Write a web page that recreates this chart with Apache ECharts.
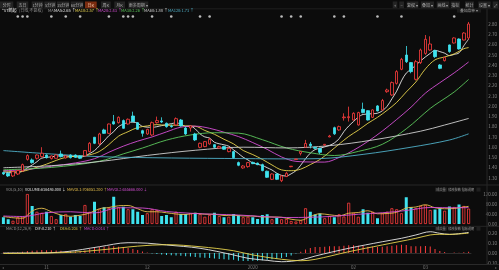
<!DOCTYPE html>
<html><head><meta charset="utf-8">
<script src="https://cdn.jsdelivr.net/npm/echarts/dist/echarts.min.js"></script>
<style>html,body{margin:0;padding:0;background:#0c0c0c;}#c{width:499px;height:270px;}</style>
</head><body><div id="c"></div>
<script>
const dates = ['2019-10-21','2019-10-22','2019-10-23','2019-10-24','2019-10-25','2019-10-28','2019-10-29','2019-10-30','2019-10-31',
'2019-11-01','2019-11-04','2019-11-05','2019-11-06','2019-11-07','2019-11-08','2019-11-11','2019-11-12','2019-11-13','2019-11-14','2019-11-15','2019-11-18','2019-11-19','2019-11-20','2019-11-21','2019-11-22','2019-11-25','2019-11-26','2019-11-27','2019-11-28','2019-11-29',
'2019-12-02','2019-12-03','2019-12-04','2019-12-05','2019-12-06','2019-12-09','2019-12-10','2019-12-11','2019-12-12','2019-12-13','2019-12-16','2019-12-17','2019-12-18','2019-12-19','2019-12-20','2019-12-23','2019-12-24','2019-12-25','2019-12-26','2019-12-27','2019-12-30','2019-12-31',
'2020-01-02','2020-01-03','2020-01-06','2020-01-07','2020-01-08','2020-01-09','2020-01-10','2020-01-13','2020-01-14','2020-01-15','2020-01-16','2020-01-17','2020-01-20','2020-01-21','2020-01-22','2020-01-23',
'2020-02-03','2020-02-04','2020-02-05','2020-02-06','2020-02-07','2020-02-10','2020-02-11','2020-02-12','2020-02-13','2020-02-14','2020-02-17','2020-02-18','2020-02-19','2020-02-20','2020-02-21','2020-02-24','2020-02-25','2020-02-26','2020-02-27','2020-02-28',
'2020-03-02','2020-03-03','2020-03-04','2020-03-05','2020-03-06','2020-03-09','2020-03-10','2020-03-11','2020-03-12','2020-03-13'];

// [open, close, low, high]
const ohlc = [
[1.353,1.339,1.33,1.36],[1.346,1.320,1.31,1.35],[1.320,1.362,1.31,1.37],[1.339,1.372,1.33,1.38],[1.37,1.43,1.36,1.44],
[1.482,1.518,1.47,1.53],[1.476,1.450,1.44,1.49],[1.492,1.524,1.48,1.53],[1.508,1.541,1.50,1.60],[1.524,1.498,1.49,1.53],
[1.489,1.515,1.48,1.52],[1.492,1.524,1.49,1.53],[1.534,1.508,1.50,1.567],[1.495,1.515,1.49,1.52],[1.524,1.498,1.49,1.53],
[1.524,1.502,1.495,1.53],[1.515,1.492,1.485,1.52],[1.515,1.567,1.51,1.57],[1.557,1.638,1.55,1.65],[1.697,1.638,1.63,1.70],
[1.632,1.729,1.62,1.74],[1.768,1.735,1.73,1.78],[1.735,1.826,1.73,1.83],[1.849,1.826,1.82,1.914],[1.839,1.891,1.83,1.90],
[1.859,1.784,1.78,1.87],[1.826,1.872,1.82,1.88],[1.904,1.849,1.845,1.946],[1.839,1.774,1.77,1.845],[1.761,1.735,1.703,1.77],
[1.729,1.774,1.72,1.78],[1.719,1.839,1.71,1.85],[1.839,1.859,1.83,1.898],[1.856,1.845,1.835,1.891],[1.833,1.800,1.79,1.84],
[1.807,1.800,1.79,1.82],[1.817,1.878,1.81,1.89],[1.865,1.807,1.80,1.875],[1.787,1.729,1.72,1.80],[1.787,1.807,1.752,1.81],
[1.729,1.671,1.66,1.74],[1.599,1.638,1.59,1.645],[1.606,1.654,1.60,1.66],[1.632,1.677,1.625,1.69],[1.625,1.599,1.59,1.63],
[1.592,1.606,1.585,1.615],[1.606,1.580,1.575,1.61],[1.557,1.589,1.55,1.60],[1.557,1.498,1.49,1.565],[1.450,1.424,1.415,1.46],
[1.398,1.417,1.39,1.425],[1.411,1.450,1.40,1.455],[1.452,1.440,1.435,1.46],[1.445,1.430,1.425,1.45],[1.430,1.372,1.365,1.44],
[1.366,1.307,1.30,1.372],[1.287,1.339,1.28,1.345],[1.339,1.287,1.28,1.345],[1.274,1.320,1.26,1.33],[1.314,1.346,1.31,1.36],
[1.41,1.415,1.405,1.415],[1.48,1.486,1.48,1.486],[1.54,1.558,1.52,1.558],[1.60,1.636,1.595,1.671],[1.63,1.615,1.589,1.65],
[1.599,1.589,1.58,1.605],[1.589,1.55,1.534,1.595],[1.62,1.628,1.615,1.63],[1.70,1.709,1.697,1.72],[1.79,1.73,1.72,1.80],
[1.768,1.80,1.76,1.81],[1.887,1.894,1.859,1.93],[1.888,1.897,1.85,1.995],[1.865,1.930,1.86,1.94],[1.817,1.937,1.81,1.945],
[1.969,1.937,1.93,2.034],[1.956,1.865,1.86,1.96],[1.891,1.963,1.885,1.97],[2.002,1.953,1.95,2.01],[1.963,2.054,1.955,2.07],
[2.141,2.157,2.13,2.17],[2.109,2.229,2.10,2.24],[2.222,2.336,2.21,2.35],[2.359,2.456,2.35,2.47],[2.498,2.433,2.42,2.586],
[2.424,2.336,2.32,2.43],[2.261,2.433,2.25,2.45],[2.424,2.547,2.41,2.56],[2.514,2.651,2.50,2.693],[2.547,2.605,2.54,2.68],
[2.540,2.482,2.47,2.55],[2.401,2.368,2.36,2.41],[2.443,2.475,2.435,2.48],[2.596,2.531,2.52,2.60],[2.615,2.664,2.61,2.67],
[2.654,2.557,2.55,2.66],[2.644,2.712,2.64,2.72],[2.664,2.80,2.65,2.82]];

// volume (万)
const volume = [27,19,13,27,29,120,72,49,45,49,32,19,36,40,29,36,32,76,49,89,59,67,64,109,67,69,59,59,49,36,
43,59,56,32,36,27,49,40,40,43,45,40,29,36,45,32,27,29,40,35,27,29,27,20,36,39,19,24,19,20,
12,10,15,63,49,38,42,23,32,27,39,30,85,45,29,59,45,49,23,43,49,63,59,43,107,67,63,72,76,56,
58,63,53,70,68,78,72,61.6];

// moving averages read at sample points [index, value]
const ma5 = [[0,1.36],[2,1.35],[4,1.365],[5,1.40],[6,1.426],[7,1.459],[8,1.493],[10,1.506],[12,1.517],[14,1.512],[16,1.503],[17,1.515],[18,1.539],[19,1.567],[20,1.613],[21,1.661],[22,1.713],[23,1.751],[24,1.801],[26,1.840],[27,1.844],[28,1.834],[29,1.803],[31,1.794],[33,1.810],[35,1.829],[36,1.836],[37,1.826],[38,1.803],[39,1.804],[40,1.778],[41,1.730],[42,1.700],[43,1.689],[44,1.648],[46,1.623],[47,1.610],[48,1.574],[49,1.539],[50,1.502],[51,1.476],[52,1.446],[54,1.422],[55,1.400],[56,1.378],[57,1.347],[58,1.325],[59,1.320],[60,1.341],[61,1.371],[62,1.425],[63,1.488],[64,1.542],[65,1.577],[66,1.590],[68,1.618],[69,1.641],[70,1.683],[71,1.752],[72,1.806],[73,1.850],[74,1.892],[75,1.919],[77,1.926],[78,1.931],[79,1.954],[80,1.998],[81,2.071],[82,2.146],[83,2.246],[84,2.322],[85,2.358],[86,2.399],[87,2.441],[88,2.480],[89,2.514],[90,2.544],[91,2.531],[92,2.516],[93,2.492],[94,2.504],[95,2.519],[96,2.588],[97,2.653]];
const ma10 = [[0,1.37],[3,1.36],[6,1.39],[9,1.435],[10,1.453],[12,1.488],[14,1.509],[16,1.512],[18,1.526],[20,1.558],[22,1.626],[24,1.707],[26,1.751],[28,1.792],[30,1.807],[32,1.820],[34,1.813],[36,1.815],[38,1.807],[40,1.804],[42,1.763],[44,1.726],[46,1.677],[48,1.632],[50,1.568],[52,1.528],[54,1.481],[56,1.427],[58,1.379],[60,1.371],[62,1.386],[64,1.431],[66,1.480],[68,1.553],[70,1.630],[72,1.705],[74,1.766],[76,1.833],[78,1.891],[80,1.959],[82,2.036],[84,2.138],[86,2.235],[88,2.363],[90,2.451],[92,2.479],[94,2.509],[96,2.559],[97,2.57]];
const ma20 = [[0,1.37],[5,1.383],[10,1.414],[15,1.447],[19,1.488],[22,1.551],[25,1.610],[28,1.659],[31,1.700],[34,1.749],[37,1.795],[40,1.805],[43,1.784],[46,1.746],[49,1.704],[52,1.645],[55,1.579],[58,1.505],[61,1.462],[64,1.456],[67,1.455],[70,1.500],[73,1.570],[76,1.656],[79,1.757],[82,1.870],[85,1.990],[88,2.127],[91,2.228],[94,2.324],[97,2.43]];
const ma30 = [[0,1.38],[10,1.403],[20,1.463],[25,1.535],[29,1.592],[34,1.669],[39,1.719],[44,1.741],[49,1.737],[54,1.673],[59,1.593],[64,1.546],[69,1.519],[74,1.559],[79,1.628],[84,1.779],[89,1.978],[91,2.043],[94,2.138],[97,2.26]];
const ma60 = [[0,1.40],[10,1.42],[20,1.46],[30,1.52],[40,1.57],[50,1.60],[59,1.593],[68,1.615],[77,1.670],[87,1.756],[92,1.816],[97,1.88]];
const ma120 = [[0,1.567],[10,1.534],[20,1.508],[35,1.495],[50,1.489],[60,1.486],[66,1.489],[75,1.53],[85,1.60],[93,1.67],[97,1.73]];

const mavol5 = [[0,30],[2,25],[4,23],[6,52],[8,63],[10,49],[12,36],[14,31],[16,35],[18,44],[20,61],[22,66],[24,73],[26,74],[28,61],[30,49],[32,49],[34,45],[36,40],[38,38],[40,43],[42,39],[44,39],[46,34],[48,35],[50,32],[52,32],[54,28],[56,28],[58,27],[60,19],[62,15],[64,30],[66,41],[68,37],[70,33],[72,43],[74,46],[76,53],[78,41],[80,42],[82,47],[84,64],[86,68],[88,77],[90,65],[92,61],[94,62],[96,68],[97,70.6]];
const mavol10 = [[0,32],[4,30],[9,45],[14,49],[19,44],[24,65],[29,64],[34,50],[39,43],[44,39],[49,36],[54,30],[59,26],[64,27],[69,31],[74,39],[79,45],[84,54],[89,66],[94,65],[97,65.6]];

const dif = [[0,0.0],[6,0.0],[13,0.013],[20,0.064],[26,0.105],[30,0.10],[34,0.082],[41,0.048],[48,-0.02],[51,-0.054],[55,-0.075],[58,-0.089],[62,-0.071],[65,-0.031],[72,0.048],[79,0.115],[83,0.15],[86,0.184],[89,0.217],[91,0.201],[93,0.19],[97,0.21]];
const dea = [[0,-0.005],[13,0.005],[20,0.03],[28,0.07],[34,0.085],[41,0.064],[48,0.023],[52,-0.02],[58,-0.064],[62,-0.079],[65,-0.065],[72,0.013],[79,0.082],[86,0.15],[89,0.184],[91,0.191],[93,0.19],[97,0.203]];
const macd = [0.005,0.004,0.006,0.008,0.012,0.02,
0.022,0.025,0.03,0.028,0.027,0.025,0.022,
0.02,0.018,0.016,0.015,0.025,0.04,0.05,
0.06,0.065,0.07,0.07,0.065,0.06,0.05,
0.04,0.03,0.015,0.005,-0.005,-0.01,-0.015,
-0.02,-0.022,-0.025,-0.028,-0.032,-0.035,-0.04,
-0.045,-0.048,-0.05,-0.055,-0.06,-0.065,-0.068,
-0.07,-0.078,-0.082,-0.082,-0.08,-0.078,-0.074,
-0.07,-0.065,-0.058,-0.05,-0.04,-0.025,-0.005,
0.012,0.035,0.05,0.06,0.06,0.065,0.07,
0.068,0.07,0.075,0.078,0.078,0.075,0.072,
0.065,0.065,0.06,0.065,0.07,0.075,0.08,
0.085,0.082,0.07,0.068,0.07,0.072,0.066,
0.04,0.02,0.01,0.0,0.005,0.002,0.008,0.014];

const eventIdx = [3,4,5,10,13,16,22,25,26,27,31,35,41,43,58,60,62,69,71,78,83,94];
const tickIdx = [9,30,52,73,88];
const tickText = ['11','12','2020','02','03'];
const priceTicks = {min:1.30, max:2.80, step:0.10};
const volTicks = {min:0, max:120, step:40};
const macdTicks = {min:-0.10, max:0.20, step:0.10};

const UP='#ff3d3d', DOWN='#3fe3ef', BG='#0c0c0c';
const FONT='"Noto Sans CJK SC","Noto Sans",sans-serif';
const chart = echarts.init(document.getElementById('c'), null, {renderer:'canvas'});

function xa(g, showLabel){
  return {type:'category', gridIndex:g, data:dates, boundaryGap:true,
    axisLine:{show:showLabel, lineStyle:{color:'#2e2e2e'}}, axisTick:{show:false}, splitLine:{show:false},
    axisLabel:{show:showLabel, color:'#7a7a7a', fontSize:4.5, fontFamily:FONT, margin:2,
      interval:(i)=>tickIdx.indexOf(i)>=0,
      formatter:(v,i)=>{const k=tickIdx.indexOf(i);return k>=0?tickText[k]:'';}}};
}
function ya(g, t, show){
  return {type:'value', gridIndex:g, position:'right', min:t.min, max:t.max, interval:t.step, scale:true,
    splitLine:{show:false}, axisLine:{show:false}, axisTick:{show:false},
    axisLabel:{show:show, color:'#8a8a8a', fontSize:4.5, fontFamily:FONT, align:'right', margin:26,
      formatter:(v)=>v.toFixed(2)}};
}
function line(data, color, xi, yi){
  return {type:'line', data:data, xAxisIndex:xi, yAxisIndex:yi, smooth:0.35, symbol:'none', clip:false,
    lineStyle:{color:color, width:0.9}, silent:true, z:3};
}

const volData = volume.map((v,i)=>{
  const up = ohlc[i][1] >= ohlc[i][0];
  return {value:v, itemStyle: up ? {color:BG, borderColor:UP, borderWidth:0.8} : {color:DOWN, borderColor:DOWN, borderWidth:0}};
});
const macdData = macd.map(v=>({value:v, itemStyle:{color: v>=0 ? UP : DOWN}}));

const G = [];
function txt(s, x, y, color, size, align){
  G.push({type:'text', x:x, y:y, silent:true, z:10,
    style:{text:s, fill:color, font:(size||4.5)+'px '+FONT, textAlign:align||'left', textVerticalAlign:'middle', verticalAlign:'middle'}});
}
function box(x1, x2, y1, y2, fill){
  G.push({type:'rect', shape:{x:x1, y:y1, width:x2-x1, height:y2-y1}, silent:true, z:9, style:{fill:fill}});
}
function hline(y, x1, x2, c){ G.push({type:'line', shape:{x1:x1,y1:y,x2:x2,y2:y}, silent:true, z:8, style:{stroke:c||'#262626', lineWidth:1}}); }
function vline(x, y1, y2, c){ G.push({type:'line', shape:{x1:x,y1:y1,x2:x,y2:y2}, silent:true, z:8, style:{stroke:c||'#262626', lineWidth:1}}); }

// toolbar
const leftButtons = [['分时',0,13.3],['五日',16.7,28.3],['1分钟',31.7,43.3],['5分钟',44.3,56],['15分钟',57,69.3],['60分钟',70.7,83.3],['日K',85,96.7,1],['周K',101,110.7],['月K',114.3,125],['更多周期 ▾',128.3,148.3]];
const rightButtons = [['+',392.7,397.3],['−',399.3,404],['复权 ▾',406.7,418.3],['叠加 ▾',421,434],['画线 ▾',436.7,449.3],['指标',450.7,460],['统计',465,474],['设置 ▾',478.3,490.7],['⤢',492.7,498.3]];
leftButtons.concat(rightButtons).forEach(b=>{
  box(b[1], b[2], 1.5, 8.3, b[3] ? '#7a2c10' : '#242424');
  txt(b[0], (b[1]+b[2])/2, 5, b[3] ? '#f2c4a8' : '#a8a8a8', 4, 'center');
});
hline(8.8, 0, 499, '#1e1e1e');
// main legend
[['*ST鹏起',2,'#e6e6e6'],['(日线,不复权)',19,'#8a8a8a'],['MA',48,'#9a9a9a'],['MA5:2.65 ↑',54,'#e6e6e6'],['MA10:2.57 ↑',75,'#e8d44d'],
 ['MA20:2.43 ↑',98,'#d64fd6'],['MA30:2.26 ↑',121,'#5cc85c'],['MA60:1.88 ↑',144,'#d0d0d0'],['MA120:1.73 ↑',168,'#4fb0c8']].forEach(a=>txt(a[0],a[1],10.6,a[2],4));
box(457, 481, 8.6, 12.6, '#1c1c1c'); txt('叠加品种 ▾', 469, 10.6, '#9a9a9a', 3.8, 'center');
// separators
hline(185, 0, 499); hline(226.3, 0, 499); hline(264.5, 0, 499, '#2a2a2a');
vline(487, 9, 264);
// vol legend
[['VOL(5,10)',6,'#9a9a9a'],['VOLUME:616486.000 ↓',25,'#e6e6e6'],['MAVOL1:706051.200 ↑',67,'#e8c04d'],['MAVOL2:655666.000 ↓',107,'#d64fd6']].forEach(a=>txt(a[0],a[1],189.6,a[2],3.8));
[['MACD(12,26,9)',6,'#9a9a9a'],['DIF:0.210 ↑',35,'#e6e6e6'],['DEA:0.203 ↑',60,'#e8d44d'],['MACD:0.014 ↑',84,'#d64fd6']].forEach(a=>txt(a[0],a[1],228.7,a[2],3.8));
// pane buttons
[[189.6],[228.7]].forEach(r=>{
  const y=r[0];
  [['成交量',435,447],['修改参数',448.5,460.5],['指标说明',462,473.5]].forEach(b=>{box(b[1],b[2],y-2,y+2,'#1f1f1f');txt(b[0],(b[1]+b[2])/2,y,'#8c8c8c',3.2,'center');});
  box(476.5,480.5,y-2,y+2,'#1f1f1f');
});
txt('◂', 2, 267.5, '#555', 4); txt('▸', 497, 267.5, '#555', 4, 'right');

const option = {
  backgroundColor: BG,
  animation:false,
  grid:[
    {left:1,right:28,top:24,height:154,containLabel:false,outerBoundsMode:'none'},
    {left:1,right:28,top:194,height:30,containLabel:false,outerBoundsMode:'none'},
    {left:1,right:28,top:233.4,height:29.4,containLabel:false,outerBoundsMode:'none'},
    {left:1,right:28,top:14,height:5,containLabel:false,outerBoundsMode:'none'}
  ],
  xAxis:[xa(0,false), xa(1,false), xa(2,true), xa(3,false)],
  yAxis:[ya(0,priceTicks,true), ya(1,volTicks,true), ya(2,macdTicks,true),
    {type:'value',gridIndex:3,min:0,max:1,show:false}],
  graphic:G,
  series:[
    {type:'candlestick', name:'K', data:ohlc, xAxisIndex:0, yAxisIndex:0, barWidth:3, clip:false, z:4,
      itemStyle:{color:BG, color0:DOWN, borderColor:UP, borderColor0:DOWN, borderWidth:0.8},
      markPoint:{symbolSize:0, silent:true, animation:false,
        label:{show:true, color:'#e0e0e0', fontSize:4.5, fontFamily:FONT, formatter:(p)=>Number(p.value).toFixed(2)},
        data:[
          {type:'max', valueDim:'highest', label:{position:'left', offset:[-2,4]}},
          {type:'min', valueDim:'lowest', label:{position:'right', offset:[3,-2]}}
        ]}},
    line(ma5,'#e6e6e6',0,0), line(ma10,'#e8d44d',0,0), line(ma20,'#d64fd6',0,0),
    line(ma30,'#5cc85c',0,0), line(ma60,'#d0d0d0',0,0), line(ma120,'#4fb0c8',0,0),
    {type:'bar', data:volData, xAxisIndex:1, yAxisIndex:1, barWidth:3, silent:true},
    line(mavol5,'#e8c04d',1,1), line(mavol10,'#d64fd6',1,1),
    {type:'bar', data:macdData, xAxisIndex:2, yAxisIndex:2, barWidth:0.8, silent:true},
    line(dif,'#e6e6e6',2,2), line(dea,'#e8d44d',2,2),
    {type:'scatter', data:eventIdx.map(i=>[i,0.5]), xAxisIndex:3, yAxisIndex:3, symbolSize:2.6,
      itemStyle:{color:'#e8e8e8'}, silent:true, clip:false}
  ]
};
chart.setOption(option);
</script></body></html>
